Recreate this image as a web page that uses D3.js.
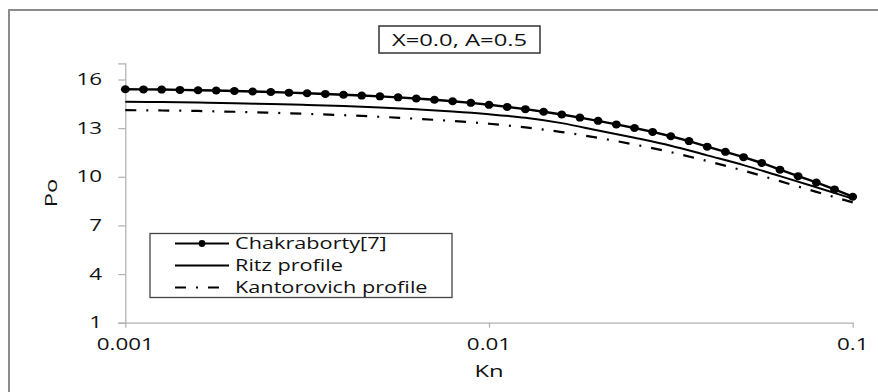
<!DOCTYPE html>
<html>
<head>
<meta charset="utf-8">
<script src="https://cdn.jsdelivr.net/npm/d3@7"></script>
<style>
  body { margin: 0; background: #fff; }
  svg { display: block; font-family: "Open Sans", sans-serif; }
</style>
</head>
<body>
<svg id="chart" width="878" height="392"></svg>
<script>
// Kn sample points (dots of the Chakraborty curve)
var knDots = [0.001, 0.001122, 0.001259, 0.001413, 0.001585, 0.001778, 0.001995, 0.002239, 0.002512, 0.002818,
  0.003162, 0.003548, 0.003981, 0.004467, 0.005012, 0.005623, 0.00631, 0.007079, 0.007943, 0.008913,
  0.01, 0.01122, 0.01259, 0.01413, 0.01585, 0.01778, 0.01995, 0.02239, 0.02512, 0.02818,
  0.03162, 0.03548, 0.03981, 0.04467, 0.05012, 0.05623, 0.0631, 0.07079, 0.07943, 0.08913, 0.1];
var chakraborty = [15.40, 15.39, 15.38, 15.36, 15.34, 15.32, 15.29, 15.26, 15.23, 15.19,
  15.15, 15.11, 15.06, 15.01, 14.96, 14.90, 14.83, 14.75, 14.66, 14.56,
  14.44, 14.31, 14.17, 14.01, 13.84, 13.65, 13.45, 13.23, 13.01, 12.77,
  12.50, 12.20, 11.86, 11.54, 11.21, 10.85, 10.44, 10.04, 9.65, 9.22, 8.77];

// Kn points for the two profile curves
var knLine = [0.001, 0.001259, 0.001585, 0.001995, 0.002512, 0.003162, 0.003981, 0.005012, 0.00631, 0.007943,
  0.01, 0.01259, 0.01585, 0.01995, 0.02512, 0.03162, 0.03981, 0.05012, 0.0631, 0.07943, 0.1];
var ritz = [14.63, 14.61, 14.58, 14.54, 14.49, 14.43, 14.36, 14.27, 14.16, 14.03,
  13.86, 13.64, 13.31, 12.86, 12.41, 11.92, 11.32, 10.72, 10.04, 9.35, 8.65];
var kantorovich = [14.11, 14.09, 14.06, 14.01, 13.95, 13.88, 13.80, 13.70, 13.58, 13.44,
  13.27, 13.05, 12.76, 12.40, 11.99, 11.52, 10.97, 10.38, 9.73, 9.07, 8.42];

var xTicks = [0.001, 0.01, 0.1];
var xTickLabels = ["0.001", "0.01", "0.1"];
var yTicks = [1, 4, 7, 10, 13, 16];
var legendLabels = ["Chakraborty[7]", "Ritz profile", "Kantorovich profile"];
var titleText = "X=0.0, A=0.5";

var svg = d3.select("#chart");
var sx = 1.4; // glyphs in the picture are wide

var x = d3.scaleLog().domain([0.001, 0.1]).range([125.3, 852.7]);
var y = d3.scaleLinear().domain([1, 17]).range([322.7, 63.3]);

// outer frame (runs past the right and bottom edge)
svg.append("rect")
  .attr("x", 9).attr("y", 10)
  .attr("width", 900).attr("height", 400)
  .attr("fill", "none")
  .attr("stroke", "#8c8c8c")
  .attr("stroke-width", 2);

function stretchedText(g, px, py, txt, size, anchor) {
  return g.append("text")
    .attr("transform", "translate(" + px + "," + py + ") scale(" + sx + ",1)")
    .attr("text-anchor", anchor || "start")
    .attr("font-size", size)
    .attr("fill", "#111")
    .text(txt);
}

// y axis
var yAxis = svg.append("g")
  .attr("transform", "translate(" + x(0.001) + ",0)")
  .call(d3.axisLeft(y).tickValues(yTicks).tickSize(7).tickFormat(""));
yAxis.select(".domain").attr("stroke", "#b0b0b0").attr("stroke-width", 1.2);
yAxis.selectAll(".tick line").attr("stroke", "#b0b0b0").attr("stroke-width", 1.2);
yTicks.forEach(function(t) {
  stretchedText(svg, 102, y(t) + 5.5, String(t), 16, "end");
});

// x axis
var xAxis = svg.append("g")
  .attr("transform", "translate(0," + y(1) + ")")
  .call(d3.axisBottom(x).tickValues(xTicks).tickSize(5).tickFormat("").tickSizeOuter(0));
xAxis.select(".domain").attr("stroke", "#b0b0b0").attr("stroke-width", 1.2);
xAxis.selectAll(".tick line").attr("stroke", "#b0b0b0").attr("stroke-width", 1.2);
xTicks.forEach(function(t, i) {
  stretchedText(svg, x(t), 349.5, xTickLabels[i], 16, "middle");
});

// axis titles
stretchedText(svg, x(0.01), 376.5, "Kn", 17, "middle");
svg.append("text")
  .attr("transform", "translate(57," + ((y(1) + y(17)) / 2) + ") rotate(-90) scale(" + sx + ",1)")
  .attr("text-anchor", "middle")
  .attr("font-size", 17)
  .attr("fill", "#111")
  .text("Po");

// curves
var chakLine = d3.line()
  .x(function(d, i) { return x(knDots[i]); })
  .y(function(d) { return y(d); });
var profLine = d3.line()
  .x(function(d, i) { return x(knLine[i]); })
  .y(function(d) { return y(d); })
  .curve(d3.curveMonotoneX);

svg.append("path").datum(kantorovich)
  .attr("d", profLine)
  .attr("fill", "none").attr("stroke", "#000")
  .attr("stroke-width", 2.2)
  .attr("stroke-dasharray", "11,10,2,10");

svg.append("path").datum(ritz)
  .attr("d", profLine)
  .attr("fill", "none").attr("stroke", "#000")
  .attr("stroke-width", 2);

svg.append("path").datum(chakraborty)
  .attr("d", chakLine)
  .attr("fill", "none").attr("stroke", "#000")
  .attr("stroke-width", 2.4);

svg.selectAll(".dot").data(chakraborty).enter()
  .append("ellipse")
    .attr("class", "dot")
    .attr("cx", function(d, i) { return x(knDots[i]); })
    .attr("cy", function(d) { return y(d); })
    .attr("rx", 4.4).attr("ry", 4)
    .attr("fill", "#000");

// title box
svg.append("rect")
  .attr("x", 379).attr("y", 26)
  .attr("width", 161).attr("height", 27)
  .attr("fill", "#fff")
  .attr("stroke", "#333").attr("stroke-width", 1.5);
stretchedText(svg, 459.5, 45.5, titleText, 17, "middle");

// legend
var legend = svg.append("g");
legend.append("rect")
  .attr("x", 150).attr("y", 233.5)
  .attr("width", 302).attr("height", 64)
  .attr("fill", "#fff")
  .attr("stroke", "#444").attr("stroke-width", 1.3);

var rowY = [243.5, 265.5, 287.5];
legendLabels.forEach(function(lab, i) {
  var ln = legend.append("line")
    .attr("x1", 175).attr("x2", 229)
    .attr("y1", rowY[i]).attr("y2", rowY[i])
    .attr("stroke", "#000").attr("stroke-width", 2);
  if (i === 2) ln.attr("stroke-dasharray", "11,10,2,10").attr("stroke-width", 2.2);
  if (i === 0) {
    legend.append("circle").attr("cx", 202).attr("cy", rowY[i]).attr("r", 3.4).attr("fill", "#000");
  }
  stretchedText(legend, 235, rowY[i] + 5.5, lab, 15.5, "start");
});
</script>
</body>
</html>
